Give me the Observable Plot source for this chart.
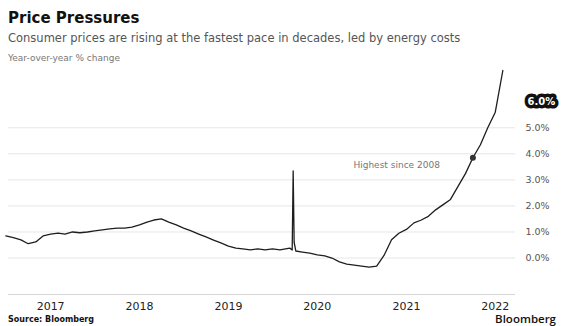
<!DOCTYPE html>
<html>
<head>
<meta charset="utf-8">
<script src="https://cdn.jsdelivr.net/npm/d3@7"></script>
<script src="https://cdn.jsdelivr.net/npm/@observablehq/plot@0.6"></script>
<style>
  html, body { margin: 0; padding: 0; background: #fff; }
  body { width: 561px; height: 326px; position: relative; overflow: hidden; font-family: "DejaVu Sans", sans-serif; }
  .t { position: absolute; left: 8px; white-space: nowrap; }
  #title { top: 9px; font: bold 15px "DejaVu Sans", sans-serif; color: #111; }
  #subtitle { top: 31px; font: 11.5px "DejaVu Sans", sans-serif; color: #555; }
  #units { top: 53px; font: 9px "DejaVu Sans", sans-serif; color: #777; }
  #chart { position: absolute; left: 0; top: 66px; }
  #source { position: absolute; left: 8px; top: 315px; font: bold 8px "DejaVu Sans", sans-serif; color: #111; }
  #brand { position: absolute; right: 5px; top: 311px; font: 600 11.5px "Open Sans", sans-serif; color: #111; }
</style>
</head>
<body>
<div class="t" id="title">Price Pressures</div>
<div class="t" id="subtitle">Consumer prices are rising at the fastest pace in decades, led by energy costs</div>
<div class="t" id="units">Year-over-year % change</div>
<div id="chart"></div>
<div id="source">Source: Bloomberg</div>
<div id="brand">Bloomberg</div>
<script>
// Series: monthly readings (with the September 2019 spike)
const dates = [
  "2016-07-01","2016-08-01","2016-09-01","2016-10-01","2016-11-01","2016-12-01",
  "2017-01-01","2017-02-01","2017-03-01","2017-04-01","2017-05-01","2017-06-01",
  "2017-07-01","2017-08-01","2017-09-01","2017-10-01","2017-11-01","2017-12-01",
  "2018-01-01","2018-02-01","2018-03-01","2018-04-01","2018-05-01","2018-06-01",
  "2018-07-01","2018-08-01","2018-09-01","2018-10-01","2018-11-01","2018-12-01",
  "2019-01-01","2019-02-01","2019-03-01","2019-04-01","2019-05-01","2019-06-01",
  "2019-07-01","2019-08-01","2019-09-10","2019-09-20","2019-09-24","2019-09-28","2019-10-05",
  "2019-11-01","2019-12-01",
  "2020-01-01","2020-02-01","2020-03-01","2020-04-01","2020-05-01","2020-06-01",
  "2020-07-01","2020-08-01","2020-09-01","2020-10-01","2020-11-01","2020-12-01",
  "2021-01-01","2021-02-01","2021-03-01","2021-04-01","2021-05-01","2021-06-01",
  "2021-07-01","2021-08-01","2021-09-01","2021-10-01","2021-11-01","2021-12-01",
  "2022-01-01","2022-02-01"
];
const values = [
  0.85, 0.78, 0.70, 0.55, 0.62, 0.85,
  0.92, 0.96, 0.92, 1.00, 0.97, 1.00,
  1.04, 1.08, 1.12, 1.15, 1.15, 1.19,
  1.27, 1.38, 1.46, 1.50, 1.38, 1.27,
  1.15, 1.04, 0.92, 0.81, 0.69, 0.58,
  0.46, 0.38, 0.35, 0.31, 0.35, 0.31,
  0.35, 0.31, 0.38, 0.31, 3.35, 0.60, 0.27,
  0.23, 0.19,
  0.12, 0.08, 0.00, -0.15, -0.23, -0.27,
  -0.31, -0.35, -0.31, 0.10, 0.70, 0.95,
  1.10, 1.35, 1.45, 1.60, 1.85, 2.05,
  2.25, 2.75, 3.25, 3.85, 4.35, 5.00,
  5.60, 7.20
];

// Right-axis ticks and their labels
const yTicks = [0, 1, 2, 3, 4, 5];
const yTickLabels = ["0.0%", "1.0%", "2.0%", "3.0%", "4.0%", "5.0%"];
// X-axis year labels
const xTickYears = ["2017", "2018", "2019", "2020", "2021", "2022"];

// Highlighted right-axis label
const highlightValue = [6];
const highlightText = ["6.0%"];

// Annotation
const annotDate = ["2021-10-01"];
const annotValue = [3.85];
const annotText = ["Highest since 2008"];

const parse = d3.utcParse("%Y-%m-%d");
const data = dates.map((d, i) => ({date: parse(d), value: values[i]}));
const xTicks = xTickYears.map(y => parse(`${y}-01-01`));
const highlight = highlightValue.map((v, i) => ({value: v, label: highlightText[i]}));
const annot = annotDate.map((d, i) => ({date: parse(d), value: annotValue[i], label: annotText[i]}));

const chart = Plot.plot({
  width: 561,
  height: 246,
  marginLeft: 8,
  marginRight: 46,
  marginTop: 4,
  marginBottom: 18,
  style: {fontFamily: "DejaVu Sans, sans-serif", fontSize: "11px", color: "#222", background: "#fff"},
  x: {type: "utc", domain: [parse("2016-07-12"), parse("2022-03-25")]},
  y: {domain: [-1.4, 7.2]},
  marks: [
    Plot.gridY(yTicks, {stroke: "#e6e6e6", strokeOpacity: 1}),
    Plot.ruleY([-1.4], {stroke: "#d6d6d6"}),
    Plot.axisX({ticks: xTicks, tickSize: 0, tickPadding: 8, tickFormat: d3.utcFormat("%Y"), fontSize: 11, fill: "#222", label: null}),
    Plot.axisY({anchor: "right", ticks: yTicks, tickSize: 0, tickPadding: 10,
      tickFormat: d => yTickLabels[yTicks.indexOf(d)], fontSize: 9.5, fill: "#555", label: null}),
    Plot.line(data, {x: "date", y: "value", stroke: "#1e1e1e", strokeWidth: 1.3}),
    Plot.dot(annot, {x: "date", y: "value", r: 3, fill: "#333"}),
    Plot.text(annot, {x: "date", y: "value", text: "label", textAnchor: "end", dx: -33, dy: 7, fontSize: 9, fill: "#777"}),
    Plot.text(highlight, {frameAnchor: "right", y: "value", text: "label", textAnchor: "start", dx: 12,
      fontSize: 10, fontWeight: "bold", fill: "#fff", stroke: "#111", strokeWidth: 7, strokeLinejoin: "round"})
  ]
});
document.getElementById("chart").appendChild(chart);
</script>
</body>
</html>
